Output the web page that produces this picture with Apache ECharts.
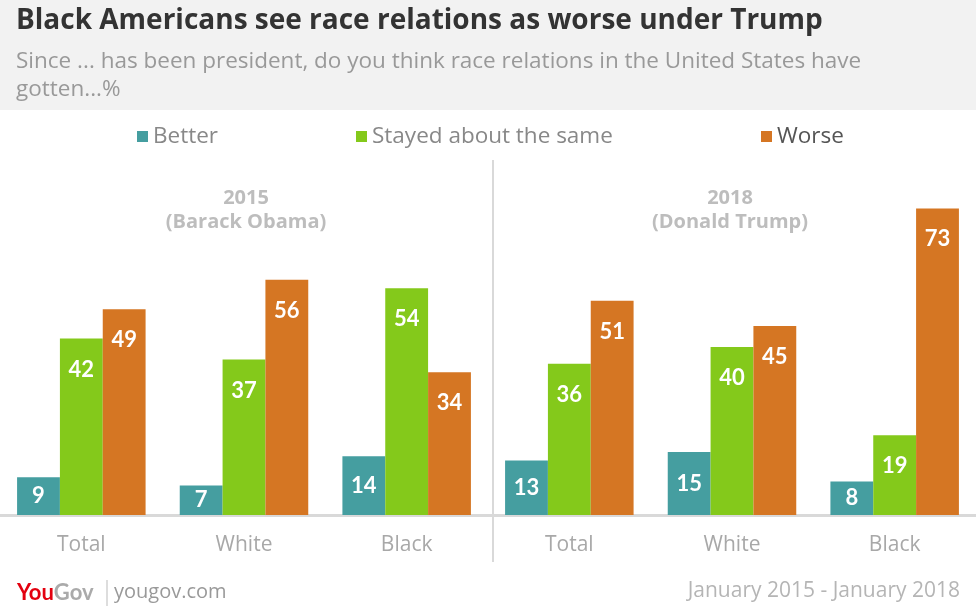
<!DOCTYPE html>
<html><head><meta charset="utf-8">
<script src="https://cdn.jsdelivr.net/npm/echarts@6/dist/echarts.min.js"></script>
<style>html,body{margin:0;padding:0;background:#fff}#c{width:976px;height:612px}</style>
</head><body><div id="c"></div>
<script>
var categories = ['Total', 'White', 'Black', 'Total ', 'White ', 'Black '];
var better = [9, 7, 14, 13, 15, 8];
var same = [42, 37, 54, 36, 40, 19];
var worse = [49, 56, 34, 51, 45, 73];
var seriesNames = ['Better', 'Stayed about the same', 'Worse'];
var colors = ['#459ea0', '#84c91b', '#d57623'];
var periods = ['2015\n(Barack Obama)', '2018\n(Donald Trump)'];

var FONT = '"Open Sans"';
var LFONT = 'Lato';
function lab(vals) {
  return vals.map(function (v) {
    return { value: v, label: { position: v < 17 ? 'inside' : 'insideTop', distance: 20 } };
  });
}
var chart = echarts.init(document.getElementById('c'));
var legendX = [137, 356, 761];
var option = {
  animation: false,
  textStyle: { fontFamily: FONT },
  grid: { left: 0, right: 0, top: 95, height: 420 },
  legend: seriesNames.map(function (n, i) {
    return { data: [n], left: legendX[i], top: 125, padding: 0, icon: 'rect', itemWidth: 11, itemHeight: 11, itemGap: 5,
      textStyle: { fontFamily: FONT, fontSize: 22.5, color: i === 2 ? '#555' : '#888', padding: [0, 0, 0, 0] }, selectedMode: false };
  }),
  xAxis: {
    type: 'category', data: categories,
    axisLine: { lineStyle: { color: '#d9d9d9', width: 3 } },
    axisTick: { show: false },
    axisLabel: { color: '#a8a8a8', fontSize: 21, margin: 20, fontFamily: FONT, formatter: function (v) { return v.trim(); } }
  },
  yAxis: { type: 'value', min: 0, max: 100, show: false },
  series: [better, same, worse].map(function (d, i) {
    return {
      name: seriesNames[i], type: 'bar', data: lab(d), barGap: '0%', barCategoryGap: '21%',
      itemStyle: { color: colors[i] },
      label: { show: true, color: '#fff', fontSize: 22, fontWeight: 'bold', fontFamily: LFONT }
    };
  }),
  graphic: [
    { type: 'rect', z: -1, shape: { x: 0, y: 0, width: 976, height: 110 }, style: { fill: '#f2f2f2' } },
    { type: 'text', left: 16, top: 7, style: { text: 'Black Americans see race relations as worse under Trump', font: 'bold 28px ' + FONT, fill: '#333' } },
    { type: 'text', left: 16, top: 48, style: { text: 'Since ... has been president, do you think race relations in the United States have\ngotten...%', font: '22.5px ' + FONT, fill: '#999', lineHeight: 28 } },
    { type: 'text', x: 246, y: 186, style: { text: periods[0], font: 'bold 20px ' + FONT, fill: '#bdbdbd', align: 'center', lineHeight: 24 } },
    { type: 'text', x: 730, y: 186, style: { text: periods[1], font: 'bold 20px ' + FONT, fill: '#bdbdbd', align: 'center', lineHeight: 24 } },
    { type: 'line', shape: { x1: 493, y1: 160, x2: 493, y2: 562 }, style: { stroke: '#d9d9d9', lineWidth: 2 } },
    { type: 'text', left: 17, top: 582, style: { rich: { a: { fill: '#e3000f', font: 'bold 22px ' + LFONT }, b: { fill: '#aaa', font: 'bold 22px ' + LFONT } }, text: '{a|You}{b|Gov}' } },
    { type: 'line', shape: { x1: 107, y1: 580, x2: 107, y2: 606 }, style: { stroke: '#bbb', lineWidth: 1 } },
    { type: 'text', left: 114, top: 582, style: { text: 'yougov.com', font: '20px ' + FONT, fill: '#999' } },
    { type: 'text', right: 16, top: 581, style: { text: 'January 2015 - January 2018', font: '21px ' + FONT, fill: '#b5b5b5' } }
  ]
};
chart.setOption(option);
</script></body></html>
